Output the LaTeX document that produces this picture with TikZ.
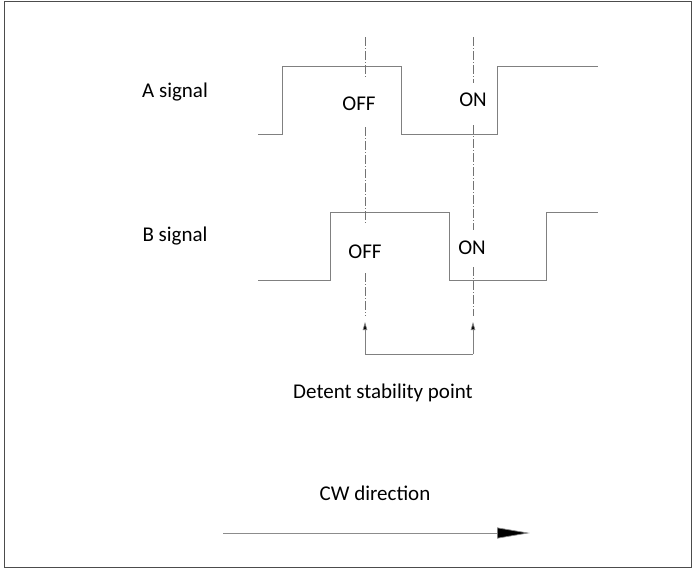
\documentclass[tikz,border=0pt]{standalone}
\usepackage{fontspec}
\setmainfont{Carlito}
\usetikzlibrary{arrows.meta}
\begin{document}
\begin{tikzpicture}[x=1pt,y=-1pt,
  wave/.style={draw=black!50,line width=0.7pt},
  axisline/.style={draw=black!55,line width=0.6pt,dash pattern=on 9pt off 2pt on 1pt off 2pt},
  lbl/.style={font=\fontsize{21}{25}\selectfont,inner sep=1pt},
  bracket/.style={draw=black!50,line width=0.7pt},
  tip/.style={-{Triangle[length=8pt,width=4.5pt,fill=black]}}
]
\useasboundingbox (0,0) rectangle (695,571);
\draw[draw=black!70,line width=0.9pt] (4,1.5) rectangle (691,567);
% labels
\node[lbl] (asig) at (175,92) {A signal};
\node[lbl] (bsig) at (175,236) {B signal};
\node[lbl] (aoff) at (359,104) {OFF};
\node[lbl] (aon) at (473,100) {ON};
\node[lbl] (boff) at (365,252) {OFF};
\node[lbl] (bon) at (472,248) {ON};
\node[lbl] (detent) at (383,393) {Detent stability point};
\node[lbl] (cw) at (375,493) {CW direction};
% A waveform
\draw[wave] (258,134) -- (282,134) -- (282,66) -- (401,66) -- (401,134) -- (497,134) -- (497,66) -- (598,66);
% B waveform
\draw[wave] (258,280) -- (330,280) -- (330,212) -- (449,212) -- (449,280) -- (546,280) -- (546,212) -- (598,212);
% dash-dot reference lines (broken around labels)
\coordinate (offtop) at (365,37);
\coordinate (ontop) at (473,37);
\coordinate (offend) at (365,316);
\coordinate (onend) at (473,316);
\coordinate (offtip) at (365,322);
\coordinate (ontip) at (473,322);
\coordinate (offbase) at (365,354);
\coordinate (onbase) at (473,354);
\draw[axisline] (offtop) -- (365,77);
\draw[axisline] (365,127) -- (365,223);
\draw[axisline] (365,273) -- (offend);
\draw[axisline] (ontop) -- (473,83);
\draw[axisline] (473,125) -- (473,230);
\draw[axisline] (473,267) -- (onend);
% bracket with arrows
\draw[bracket,tip] (offbase) -- (offtip);
\draw[bracket,tip] (onbase) -- (ontip);
\draw[bracket] (offbase) -- (onbase);
% CW arrow
\coordinate (cwstart) at (223,533);
\coordinate (cwend) at (530,533);
\draw[draw=black!45,line width=0.7pt,-{Triangle[length=33pt,width=11pt,fill=black]}] (cwstart) -- (cwend);
\end{tikzpicture}
\end{document}
